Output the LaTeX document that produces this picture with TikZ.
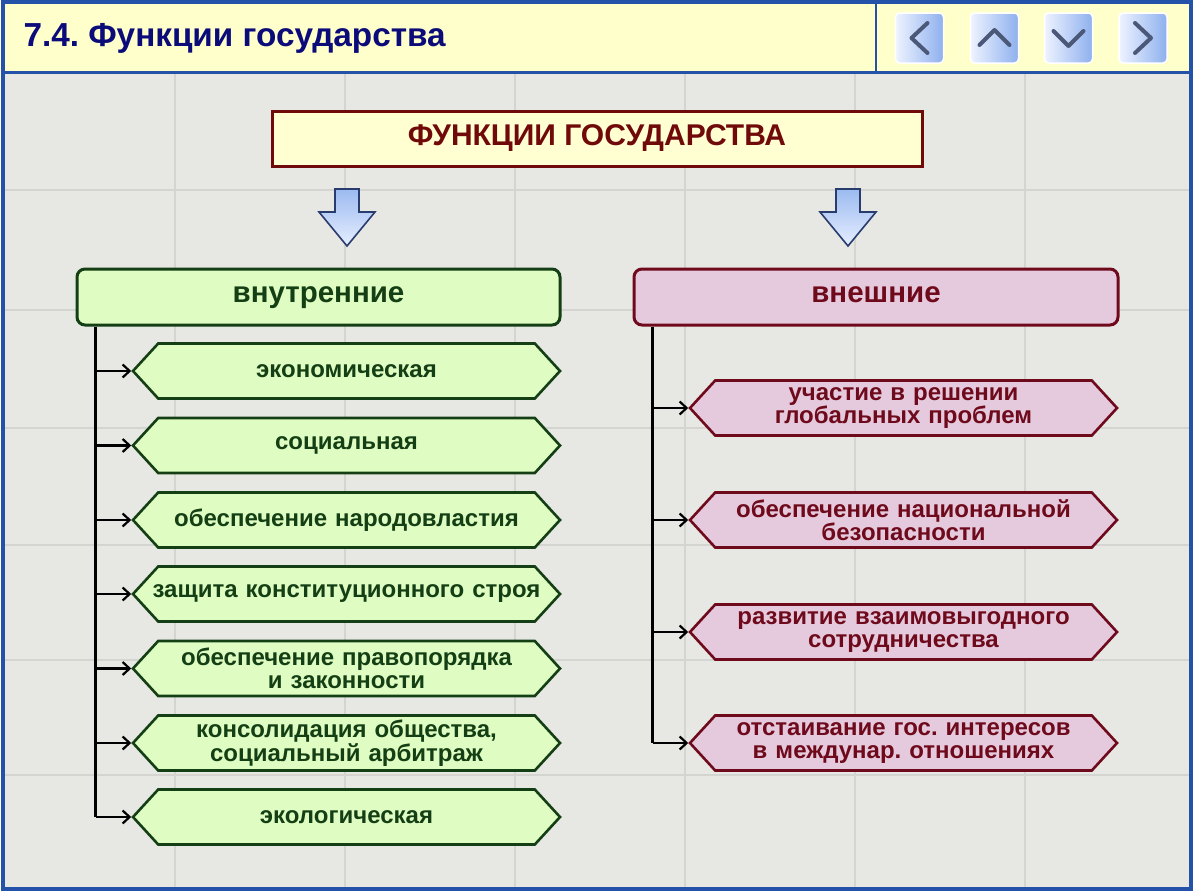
\documentclass[tikz,border=0pt]{standalone}
\usepackage{fontspec}
\setmainfont{Liberation Sans}
\usetikzlibrary{shapes.symbols,arrows.meta}
\frenchspacing
\definecolor{framebl}{HTML}{2452A8}
\definecolor{headyel}{HTML}{FFFFCC}
\definecolor{titlenavy}{HTML}{0B0B7A}
\definecolor{bodybg}{HTML}{E7E7E4}
\definecolor{gridln}{HTML}{D4D4D0}
\definecolor{mainfill}{HTML}{FFFFD2}
\definecolor{maindark}{HTML}{700A0A}
\definecolor{grfill}{HTML}{DFFCC2}
\definecolor{grdark}{HTML}{143F14}
\definecolor{pkfill}{HTML}{E4CADC}
\definecolor{pkdark}{HTML}{6E0A1C}
\definecolor{btnlight}{HTML}{EEF3FF}
\definecolor{btnblue}{HTML}{8EB0EE}
\definecolor{chev}{HTML}{4B5878}
\definecolor{arrtop}{HTML}{9CBAF0}
\definecolor{arrbot}{HTML}{E6EEFF}
\definecolor{arrline}{HTML}{283C6E}
\tikzset{
  mainbox/.style={draw=maindark, fill=mainfill, line width=3pt, minimum width=650pt, minimum height=55pt,
    text=maindark, font=\fontsize{30}{32}\selectfont\bfseries},
  grhead/.style={draw=grdark, fill=grfill, line width=3pt, rounded corners=8pt, minimum width=483pt, minimum height=56pt,
    text height=16pt, text depth=6pt, text=grdark, font=\fontsize{29.5}{32}\selectfont\bfseries},
  pkhead/.style={draw=pkdark, fill=pkfill, line width=3pt, rounded corners=8pt, minimum width=484pt, minimum height=56pt,
    text height=16pt, text depth=6pt, text=pkdark, font=\fontsize{29.5}{32}\selectfont\bfseries},
  hexbase/.style={signal, signal to=west and east, signal pointer angle=95, line width=2.6pt,
    minimum width=427pt, minimum height=55pt, inner sep=0pt, text width=376pt, align=center,
    font=\fontsize{24}{23.5}\selectfont\bfseries},
  grhex/.style={hexbase, draw=grdark, fill=grfill, text=grdark},
  pkhex/.style={hexbase, draw=pkdark, fill=pkfill, text=pkdark},
  conn/.style={black, line width=2.2pt, -{Straight Barb[length=7pt,width=13pt]}},
  trunk/.style={black, line width=2.6pt},
  barrow/.style={draw=arrline, line width=1.6pt, top color=arrtop, bottom color=arrbot, line join=miter},
  btn/.style={draw=white, line width=1.5pt, rounded corners=4pt, left color=btnlight, right color=btnblue},
  chevron/.style={draw=chev, line width=4pt, line cap=round, line join=round},
}
\begin{document}
\begin{tikzpicture}[x=1pt,y=-1pt]
\useasboundingbox (0,0) rectangle (1200,894);
% page
\fill[white] (0,0) rectangle (1200,894);
\fill[bodybg] (4,72) rectangle (1191,889);
% faint tile grid
\foreach \gx in {175,345,515,685,855,1025}
  \draw[gridln, line width=1.2pt] (\gx,73) -- (\gx,888);
\foreach \gy in {190,310,428,545,660,775}
  \draw[gridln, line width=1.2pt] (5,\gy) -- (1190,\gy);
% header
\fill[headyel] (4,3) rectangle (1191,72);
\draw[framebl, line width=3pt] (4,72) -- (1191,72);
\draw[framebl, line width=2.5pt] (876,4) -- (876,72);
\draw[framebl, line width=4pt] (3,2) rectangle (1191,889);
\node[anchor=west, text=titlenavy, font=\fontsize{33.3}{36}\selectfont\bfseries] (title) at (20,38) {7.4. Функции государства};
% navigation buttons
\node[btn, minimum width=48pt, minimum height=50pt] (b1) at (919.5,38) {};
\node[btn, minimum width=48pt, minimum height=50pt] (b2) at (994.5,38) {};
\node[btn, minimum width=48pt, minimum height=50pt] (b3) at (1068.5,38) {};
\node[btn, minimum width=48pt, minimum height=50pt] (b4) at (1143,38) {};
\draw[chevron] ([shift={(8,-15)}]b1.center) -- ([shift={(-8,0)}]b1.center) -- ([shift={(8,15)}]b1.center);
\draw[chevron] ([shift={(-15,7)}]b2.center) -- ([shift={(0,-8)}]b2.center) -- ([shift={(15,7)}]b2.center);
\draw[chevron] ([shift={(-15,-7)}]b3.center) -- ([shift={(0,8)}]b3.center) -- ([shift={(15,-7)}]b3.center);
\draw[chevron] ([shift={(-8,-15)}]b4.center) -- ([shift={(8,0)}]b4.center) -- ([shift={(-8,15)}]b4.center);
% main box
\node[mainbox] (fg) at (597,138.5) {ФУНКЦИИ ГОСУДАРСТВА};
% block arrows
\foreach \ax in {347,848}
  \draw[barrow] (\ax-12,189) -- (\ax+12,189) -- (\ax+12,212) -- (\ax+28,212) -- (\ax,246) -- (\ax-28,212) -- (\ax-12,212) -- cycle;
% headers
\node[grhead] (inner) at (318.5,297) {внутренние};
\node[pkhead] (outer) at (876,297) {внешние};
% internal functions
\node[grhex] (l1) at (346.5,371) {экономическая};
\node[grhex] (l2) at (346.5,445.5) {социальная};
\node[grhex] (l3) at (346.5,520) {обеспечение народовластия};
\node[grhex] (l4) at (346.5,594) {\makebox[376pt][c]{защита конституционного строя}};
\node[grhex] (l5) at (346.5,668.5) {обеспечение правопорядка\\и законности};
\node[grhex] (l6) at (346.5,743) {консолидация общества,\\социальный арбитраж};
\node[grhex] (l7) at (346.5,817) {экологическая};
% external functions
\node[pkhex] (r1) at (903.5,408) {участие в решении\\глобальных проблем};
\node[pkhex] (r2) at (903.5,520) {обеспечение национальной\\безопасности};
\node[pkhex] (r3) at (903.5,632) {развитие взаимовыгодного\\сотрудничества};
\node[pkhex] (r4) at (903.5,743) {отстаивание гос. интересов\\в междунар. отношениях};
% connectors
\coordinate (ti) at ([xshift=20pt]inner.south west);
\coordinate (to) at ([xshift=20pt]outer.south west);
\draw[trunk] (ti) -- (ti |- l7.west);
\draw[trunk] (to) -- (to |- r4.west);
\foreach \n in {l1,l2,l3,l4,l5,l6,l7}
  \draw[conn] (ti |- \n.west) -- (\n.west);
\foreach \n in {r1,r2,r3,r4}
  \draw[conn] (to |- \n.west) -- (\n.west);
\end{tikzpicture}
\end{document}
